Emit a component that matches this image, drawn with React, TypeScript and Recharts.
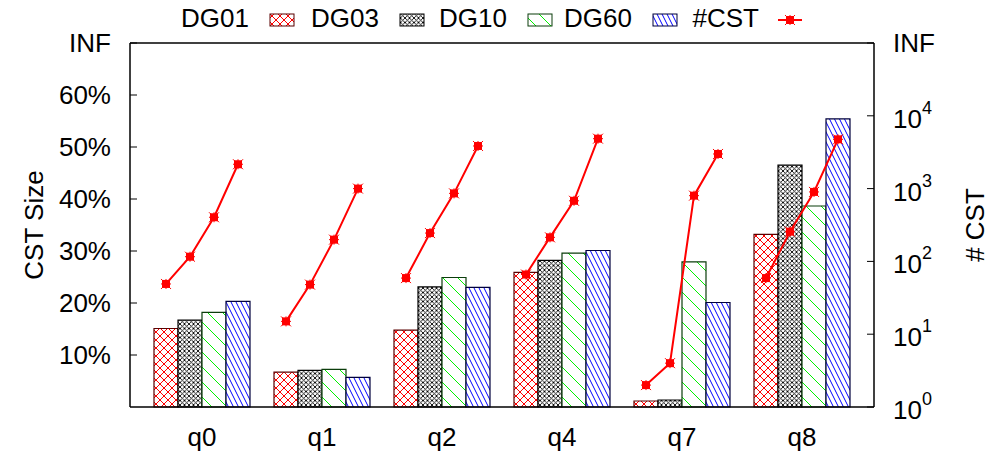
import React from "react";
import { Bar, ComposedChart, Legend, Scatter, XAxis, YAxis } from "recharts";

const queries = ["q0", "q1", "q2", "q4", "q7", "q8"];

// CST size in % per query (left axis)
const dg01 = [15.1, 6.7, 14.8, 25.9, 1.15, 33.2];
const dg03 = [16.7, 7.05, 23.1, 28.2, 1.35, 46.5];
const dg10 = [18.2, 7.25, 24.9, 29.6, 27.9, 38.65];
const dg60 = [20.3, 5.7, 23.0, 30.1, 20.1, 55.4];

// number of CSTs per query (right axis, log)
const cst01 = [49, 15, 59, 66, 2, 59];
const cst03 = [116, 48, 245, 214, 4, 256];
const cst10 = [404, 199, 860, 680, 800, 900];
const cst60 = [2160, 1000, 3850, 4850, 2990, 4750];

const leftTicks = [10, 20, 30, 40, 50, 60, 70];
const rightTicks = [1, 10, 100, 1000, 10000, 100000];

const W = 1005;
const H = 456;
const FONT = "'Liberation Sans', Arial, Helvetica, sans-serif";
const FS = 26;

const series = [
  { key: "dg01", name: "DG01", fill: "url(#pat01)", border: "#5a0000" },
  { key: "dg03", name: "DG03", fill: "url(#pat03)", border: "#000000" },
  { key: "dg10", name: "DG10", fill: "url(#pat10)", border: "#0b3d0b" },
  { key: "dg60", name: "DG60", fill: "url(#pat60)", border: "#00003d" },
];

const barData = queries.map((q, i) => ({
  q,
  dg01: dg01[i],
  dg03: dg03[i],
  dg10: dg10[i],
  dg60: dg60[i],
}));

// one short line per query, its points sit over the four bars (bar = 0.2 of a category)
const cstSets = [cst01, cst03, cst10, cst60];
const cstLines = queries.map((_, i) =>
  cstSets.map((set, j) => ({ x: i + (j - 1.5) * 0.2, y: set[i] }))
);

// legend layout (gnuplot style: text, then sample)
const legendTextEnd = [249, 379, 507, 632, 759];

function Patterns() {
  return (
    <defs>
      <pattern id="pat01" width={8} height={8} patternUnits="userSpaceOnUse">
        <rect width={8} height={8} fill="#fff" />
        <path d="M-1 -1L9 9M9 -1L-1 9" stroke="#ff0000" strokeWidth={1} />
      </pattern>
      <pattern id="pat03" width={4.5} height={4.5} patternUnits="userSpaceOnUse">
        <rect width={4.5} height={4.5} fill="#fff" />
        <path d="M-1 -1L5.5 5.5M5.5 -1L-1 5.5" stroke="#000" strokeWidth={0.9} />
      </pattern>
      <pattern id="pat10" width={15} height={15} patternUnits="userSpaceOnUse">
        <rect width={15} height={15} fill="#fff" />
        <path d="M-1 -1L16 16M-1 14L1 16M14 -1L16 1" stroke="#00f000" strokeWidth={1} />
      </pattern>
      <pattern id="pat60" width={5} height={10} patternUnits="userSpaceOnUse">
        <rect width={5} height={10} fill="#fff" />
        <path d="M-5 -10L10 20M-10 -10L5 20M0 -10L15 20" stroke="#0000ff" strokeWidth={1} />
      </pattern>
    </defs>
  );
}

function CstMarker(props: any) {
  const { cx, cy } = props;
  if (cx == null || cy == null) return null;
  return (
    <g>
      <rect x={cx - 4} y={cy - 4} width={8} height={8} fill="#ff0000" />
      <path
        d={`M${cx - 5} ${cy}H${cx + 5}M${cx} ${cy - 5}V${cy + 5}M${cx - 5} ${cy - 5}L${cx + 5} ${cy + 5}M${cx + 5} ${cy - 5}L${cx - 5} ${cy + 5}`}
        stroke="#ff0000"
        strokeWidth={1}
      />
    </g>
  );
}

function RightTick(props: any) {
  const { x, y, payload } = props;
  const v = payload.value;
  if (v >= 100000) {
    return (
      <text x={x} y={y} dy={9} fontSize={FS} fontFamily={FONT} fill="#000">
        INF
      </text>
    );
  }
  const exp = Math.round(Math.log10(v));
  return (
    <text x={x} y={y} fontFamily={FONT} fill="#000">
      <tspan fontSize={FS} dy={12}>10</tspan>
      <tspan fontSize={18} dy={-14}>{exp}</tspan>
    </text>
  );
}

function AxisTitle({ text, bx, cy }: { text: string; bx: number; cy: number }) {
  return (
    <text
      x={bx}
      y={cy}
      transform={`rotate(-90, ${bx}, ${cy})`}
      textAnchor="middle"
      fontSize={FS}
      fontFamily={FONT}
      fill="#000"
    >
      {text}
    </text>
  );
}

function LegendRow() {
  return (
    <svg width={W} height={40}>
      {series.map((s, i) => (
        <g key={s.key}>
          <text x={legendTextEnd[i]} y={27} textAnchor="end" fontSize={FS} fontFamily={FONT} fill="#000">
            {s.name}
          </text>
          <rect x={legendTextEnd[i] + 21} y={14} width={24} height={12} fill={s.fill} stroke={s.border} strokeWidth={1} />
        </g>
      ))}
      <text x={legendTextEnd[4]} y={27} textAnchor="end" fontSize={FS} fontFamily={FONT} fill="#000">
        #CST
      </text>
      <line x1={778} x2={802} y1={20} y2={20} stroke="#ff0000" strokeWidth={2} />
      <CstMarker cx={790} cy={20} />
    </svg>
  );
}

export default function App() {
  const axisLine = { stroke: "#000", strokeWidth: 1.5 };
  const tickStyle = { fill: "#000", fontSize: FS, fontFamily: FONT };
  return (
    <div style={{ position: "absolute", left: 0, top: 0, width: W, height: H, background: "#fff" }}>
      <ComposedChart
        width={W}
        height={H}
        data={barData}
        margin={{ top: 42, right: 0, bottom: 0, left: 0 }}
        barCategoryGap="10%"
        barGap={0}
      >
        <Patterns />
        <XAxis
          xAxisId="cat"
          dataKey="q"
          padding={{ left: 12, right: 12 }}
          height={49}
          interval={0}
          tickLine={false}
          tickSize={0}
          tickMargin={21}
          axisLine={axisLine}
          tick={tickStyle}
        />
        <XAxis
          xAxisId="top"
          dataKey="q"
          orientation="top"
          padding={{ left: 12, right: 12 }}
          height={1}
          interval={0}
          tick={false}
          tickSize={-7}
          tickLine={{ stroke: "#000" }}
          axisLine={axisLine}
        />
        <XAxis xAxisId="num" type="number" dataKey="x" domain={[-0.6, 5.6]} allowDataOverflow hide />
        <YAxis
          yAxisId="left"
          width={130}
          domain={[0, 70]}
          ticks={leftTicks}
          interval={0}
          tickFormatter={(v: number) => (v >= 70 ? "INF" : `${v}%`)}
          tickSize={-7}
          tickMargin={26}
          tickLine={{ stroke: "#000" }}
          axisLine={axisLine}
          tick={tickStyle}
          label={{
            value: "CST Size",
            content: (p: any) => {
              const vb = p.viewBox || { x: 0, y: 43, width: 130, height: 364 };
              return <AxisTitle text="CST Size" bx={vb.x + 43} cy={vb.y + vb.height / 2} />;
            },
          }}
        />
        <YAxis
          yAxisId="right"
          orientation="right"
          width={131}
          dataKey="y"
          scale="log"
          domain={[1, 100000]}
          allowDataOverflow
          ticks={rightTicks}
          interval={0}
          tickSize={-7}
          tickMargin={26}
          tickLine={{ stroke: "#000" }}
          axisLine={axisLine}
          tick={<RightTick />}
          label={{
            value: "# CST",
            content: (p: any) => {
              const vb = p.viewBox || { x: 874, y: 43, width: 131, height: 364 };
              return <AxisTitle text="# CST" bx={vb.x + 110} cy={vb.y + vb.height / 2} />;
            },
          }}
        />
        {series.map((s) => (
          <Bar
            key={s.key}
            xAxisId="cat"
            yAxisId="left"
            dataKey={s.key}
            name={s.name}
            fill={s.fill}
            stroke={s.border}
            strokeWidth={1.2}
            isAnimationActive={false}
          />
        ))}
        {cstLines.map((pts, i) => (
          <Scatter
            key={queries[i]}
            name="#CST"
            xAxisId="num"
            yAxisId="right"
            data={pts}
            line={{ stroke: "#ff0000", strokeWidth: 2 }}
            lineType="joint"
            shape={CstMarker}
            isAnimationActive={false}
          />
        ))}
        <Legend
          layout="horizontal"
          verticalAlign="middle"
          align="center"
          wrapperStyle={{ top: 0, left: 0, width: W, height: 40 }}
          content={() => <LegendRow />}
        />
      </ComposedChart>
    </div>
  );
}
